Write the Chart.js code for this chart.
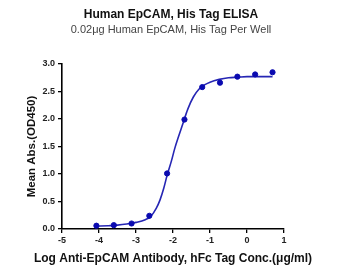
<!DOCTYPE html>
<html>
<head>
<meta charset="utf-8">
<script src="https://cdn.jsdelivr.net/npm/chart.js@4/dist/chart.umd.min.js"></script>
<style>
html,body{margin:0;padding:0;background:#fff;}
#wrap{width:342px;height:268px;position:relative;}
</style>
</head>
<body>
<div id="wrap"><canvas id="c" width="342" height="268"></canvas></div>
<script>
// Measured points (log concentration, mean OD450)
const logConc = [-4.07, -3.60, -3.12, -2.64, -2.16, -1.69, -1.21, -0.73, -0.26, 0.22, 0.69];
const meanAbs = [0.06, 0.07, 0.10, 0.24, 1.01, 1.99, 2.58, 2.66, 2.77, 2.81, 2.85];
// Fitted curve
const curveX = [-4.07, -3.75, -3.5, -3.25, -3.0, -2.75, -2.6, -2.45, -2.35, -2.25, -2.15, -2.05, -1.95, -1.85, -1.75, -1.6, -1.45, -1.3, -1.15, -1.0, -0.75, -0.5, -0.25, 0.0, 0.35, 0.69];
const curveY = [0.05, 0.06, 0.07, 0.09, 0.12, 0.17, 0.23, 0.38, 0.53, 0.74, 1.00, 1.22, 1.47, 1.68, 1.88, 2.18, 2.40, 2.54, 2.62, 2.67, 2.72, 2.75, 2.76, 2.77, 2.77, 2.77];
const xTicks = [-5, -4, -3, -2, -1, 0, 1];
const yTicks = [0, 0.5, 1.0, 1.5, 2.0, 2.5, 3.0];

const titleText = 'Human EpCAM, His Tag ELISA';
const subtitleText = '0.02\u03bcg Human EpCAM, His Tag Per Well';
const xTitle = 'Log Anti-EpCAM Antibody, hFc Tag Conc.(\u03bcg/ml)';
const yTitle = 'Mean Abs.(OD450)';

const FONT = "'Liberation Sans', Arial, sans-serif";

// Draws the x-axis title centred under the plot without squeezing it to the plot width
const xTitlePlugin = {
  id: 'xTitleFree',
  afterDraw(chart) {
    const ctx = chart.ctx;
    const xs = chart.scales.x;
    ctx.save();
    ctx.font = "bold 12px " + FONT;
    ctx.fillStyle = '#111';
    ctx.textAlign = 'center';
    ctx.textBaseline = 'middle';
    ctx.fillText(xTitle, (xs.left + xs.right) / 2, xs.bottom - 9.5);
    ctx.restore();
  }
};

new Chart(document.getElementById('c'), {
  type: 'scatter',
  data: {
    datasets: [
      {
        type: 'line',
        data: curveX.map((x, i) => ({x: x, y: curveY[i]})),
        borderColor: '#2626b4',
        borderWidth: 1.6,
        pointRadius: 0,
        fill: false,
        cubicInterpolationMode: 'monotone',
        order: 2
      },
      {
        data: logConc.map((x, i) => ({x: x, y: meanAbs[i]})),
        backgroundColor: '#0a0ab0',
        borderColor: '#0a0ab0',
        pointRadius: 2.6,
        pointHoverRadius: 2.6,
        order: 1
      }
    ]
  },
  plugins: [xTitlePlugin],
  options: {
    responsive: false,
    animation: false,
    devicePixelRatio: 1,
    layout: {padding: {left: 0, right: 0, top: 0, bottom: 0}},
    plugins: {
      legend: {display: false},
      tooltip: {enabled: false},
      title: {
        display: true,
        text: titleText,
        color: '#111',
        font: {family: FONT, size: 12, weight: 'bold'},
        padding: {top: 7, bottom: 2}
      },
      subtitle: {
        display: true,
        text: subtitleText,
        color: '#444',
        font: {family: FONT, size: 11},
        padding: {top: 0, bottom: 27.4}
      }
    },
    scales: {
      x: {
        type: 'linear',
        min: -5, max: 1,
        afterBuildTicks: s => { s.ticks = xTicks.map(v => ({value: v})); },
        afterFit: s => { s.height = 39; },
        grid: {display: true, drawOnChartArea: false, drawTicks: true, tickLength: 4, color: '#000', lineWidth: 1.3},
        border: {display: true, color: '#000', width: 1.6},
        ticks: {color: '#222', font: {family: FONT, size: 9, weight: 'bold'}, padding: 2, maxRotation: 0,
                callback: v => String(v)},
        title: {display: false}
      },
      y: {
        type: 'linear',
        min: 0, max: 3,
        afterBuildTicks: s => { s.ticks = yTicks.map(v => ({value: v})); },
        afterFit: s => { s.width = 62; },
        grid: {display: true, drawOnChartArea: false, drawTicks: true, tickLength: 4, color: '#000', lineWidth: 1.3},
        border: {display: true, color: '#000', width: 1.6},
        ticks: {color: '#222', font: {family: FONT, size: 9, weight: 'bold'}, padding: 3,
                callback: v => Number(v).toFixed(1)},
        title: {display: true, text: yTitle, color: '#111', font: {family: FONT, size: 11.5, weight: 'bold'}, padding: {top: 25, bottom: 0}}
      },
      spacer: {
        type: 'linear',
        position: 'right',
        display: true,
        min: 0, max: 3,
        afterFit: s => { s.width = 58; },
        grid: {display: false, drawTicks: false},
        border: {display: false},
        ticks: {display: false},
        title: {display: false}
      }
    }
  }
});
</script>
</body>
</html>
